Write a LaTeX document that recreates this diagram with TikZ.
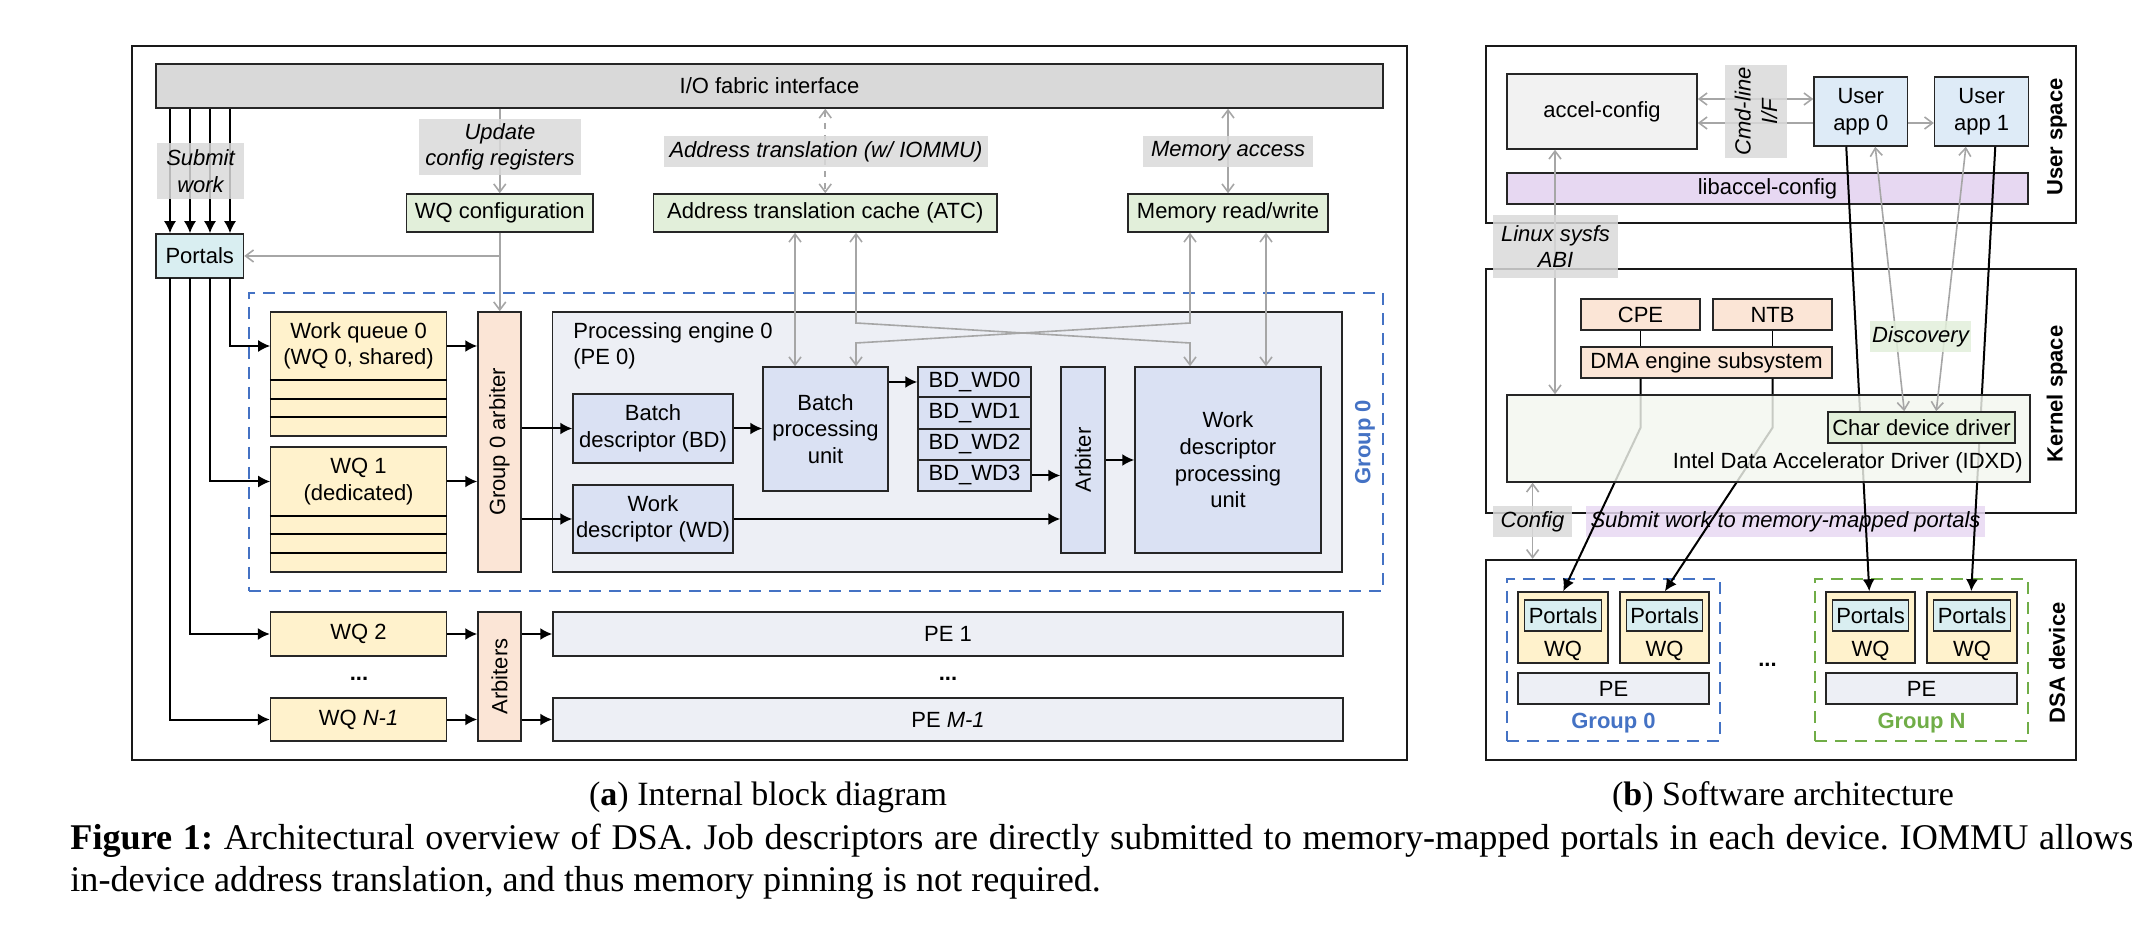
\documentclass[tikz,border=0pt]{standalone}
\usepackage{fontspec}
\setmainfont{Liberation Sans}
\newfontfamily\capfont{Liberation Serif}
\usetikzlibrary{arrows.meta,calc}
\definecolor{cfab}{HTML}{D9D9D9}
\definecolor{cgreen}{HTML}{E2EFDA}
\definecolor{cport}{HTML}{D9EEF1}
\definecolor{cyel}{HTML}{FFF2CC}
\definecolor{cpeach}{HTML}{FBE5D6}
\definecolor{cpe}{HTML}{EDEFF5}
\definecolor{cblu}{HTML}{DAE1F3}
\definecolor{cacc}{HTML}{F2F2F2}
\definecolor{capp}{HTML}{DEEBF7}
\definecolor{clav}{HTML}{E7D8F2}
\definecolor{cidxd}{HTML}{F3F7EF}
\definecolor{cdblue}{HTML}{4472C4}
\definecolor{cdgreen}{HTML}{70AD47}
\definecolor{cgray}{HTML}{A6A6A6}
\newcommand\place[7]{\node[#6,minimum width={(#4-(#2))*0.5pt},minimum height={(#5-(#3))*0.5pt}] (#1) at ({(#2+#4)/2},{(#3+#5)/2}) {#7};}
\newcommand\mkbox[7]{\place{#1}{#2}{#3}{#4}{#5}{bx,#6}{#7}}
\begin{document}
\begin{tikzpicture}[x=0.5pt,y=-0.5pt,
  every node/.style={font=\fontsize{11}{13.3}\selectfont},
  bx/.style={draw=black!85,line width=0.75pt,inner sep=0pt,align=center},
  frame/.style={draw=black!90,line width=1.1pt,inner sep=0pt},
  lbl/.style={fill=cfab,fill opacity=0.85,text opacity=1,inner sep=0pt,align=center,font=\fontsize{11}{13.3}\selectfont\itshape},
  grp/.style={line width=1pt,dash pattern=on 6pt off 4pt,inner sep=0pt},
  blk/.style={line width=1pt,-{Latex[length=6pt,width=6pt]}},
  gry/.style={draw=cgray,line width=0.8pt,-{Straight Barb[length=4pt,width=6pt]}},
  gry2/.style={draw=cgray,line width=0.8pt,{Straight Barb[length=4pt,width=6pt]}-{Straight Barb[length=4pt,width=6pt]}},
  side/.style={rotate=90,font=\fontsize{11}{13.3}\selectfont\bfseries},
  capt/.style={inner sep=0pt,font=\capfont\fontsize{17}{20.5}\selectfont},
]
\useasboundingbox (0,0) rectangle (2156,929);

%%%%%%%%%%%%%%%% (a) internal block diagram
\place{pa}{132}{46}{1407}{760}{frame}{}
\mkbox{fab}{156}{64}{1383}{108}{fill=cfab}{I/O fabric interface}
\place{g0}{249}{293}{1383}{591}{grp,draw=cdblue}{}
\node[rotate=90,text=cdblue,font=\fontsize{11}{13.3}\selectfont\bfseries] (g0t) at (1365,442) {Group 0};

\mkbox{portals}{156}{234}{243.5}{278}{fill=cport}{Portals}
\mkbox{wqconf}{406.5}{194}{593}{232}{fill=cgreen}{WQ configuration}
\mkbox{atc}{653.5}{194}{997}{232}{fill=cgreen}{Address translation cache (ATC)}
\mkbox{mem}{1128}{194}{1328}{232}{fill=cgreen}{Memory read/write}

% work queues
\mkbox{wq0box}{270.6}{312}{446.5}{436}{fill=cyel}{}
\place{wq0}{270.6}{312}{446.5}{380}{inner sep=0pt,align=center}{Work queue 0\\(WQ 0, shared)}
\foreach \yy in {380,399,417} \draw[line width=0.75pt] (wq0box.west |- 0,\yy) -- (wq0box.east |- 0,\yy);
\mkbox{wq1box}{270.6}{447}{446.5}{572}{fill=cyel}{}
\place{wq1}{270.6}{447}{446.5}{516}{inner sep=0pt,align=center}{WQ 1\\(dedicated)}
\foreach \yy in {516,534,553} \draw[line width=0.75pt] (wq1box.west |- 0,\yy) -- (wq1box.east |- 0,\yy);

\mkbox{g0arb}{478}{312}{521}{572}{fill=cpeach}{}
\node[rotate=90] (g0arbt) at (g0arb) {Group 0 arbiter};

\mkbox{pe0}{552.5}{312}{1342}{572}{fill=cpe}{}
\node[anchor=west,align=left,inner sep=0pt] (pe0t) at (573,346) {Processing engine 0\\(PE 0)};
\mkbox{bd}{573}{394}{733}{463}{fill=cblu}{Batch\\descriptor (BD)}
\mkbox{wd}{573}{485}{733}{553}{fill=cblu}{Work\\descriptor (WD)}
\mkbox{bpu}{763}{367}{888}{491}{fill=cblu}{Batch\\processing\\unit}
\mkbox{bdwd0}{918}{367}{1031}{397}{fill=cblu}{BD\_WD0}
\mkbox{bdwd1}{918}{397}{1031}{429}{fill=cblu}{BD\_WD1}
\mkbox{bdwd2}{918}{429}{1031}{460}{fill=cblu}{BD\_WD2}
\mkbox{bdwd3}{918}{460}{1031}{491}{fill=cblu}{BD\_WD3}
\mkbox{iarb}{1061}{367}{1105}{553}{fill=cblu}{}
\node[rotate=90] (iarbt) at (iarb) {Arbiter};
\mkbox{wdpu}{1135}{367}{1321}{553}{fill=cblu}{Work\\descriptor\\processing\\unit}

\mkbox{wq2}{270.6}{612}{446.5}{656}{fill=cyel}{WQ 2}
\mkbox{wqn}{270.6}{698}{446.5}{741}{fill=cyel}{WQ \textit{N-1}}
\node (dotsa) at (359,679) {\bfseries ...};
\mkbox{arbs}{478}{612}{521}{741}{fill=cpeach}{}
\node[rotate=90] (arbst) at (arbs) {Arbiters};
\mkbox{pe1}{553}{612}{1343}{656}{fill=cpe}{PE 1}
\mkbox{pem}{553}{698}{1343}{741}{fill=cpe}{PE \textit{M-1}}
\node (dotsb) at (948,679) {\bfseries ...};

% black connectors
\coordinate (pb1) at (170,278);
\coordinate (pb2) at (190,278);
\coordinate (pb3) at (210,278);
\coordinate (pb4) at (230,278);
\foreach \p in {pb1,pb2,pb3,pb4} \draw[blk] (fab.south -| \p) -- (portals.north -| \p);
\draw[blk] (pb4) |- (wq0.west);
\draw[blk] (pb3) |- (wq1.west);
\draw[blk] (pb2) |- (wq2.west);
\draw[blk] (pb1) |- (wqn.west);
\draw[blk] (wq0.east) -- (wq0.east -| g0arb.west);
\draw[blk] (wq1.east) -- (wq1.east -| g0arb.west);
\draw[blk] (bd.west -| g0arb.east) -- (bd.west);
\draw[blk] (wd.west -| g0arb.east) -- (wd.west);
\draw[blk] (bd.east) -- (bd.east -| bpu.west);
\draw[blk] (bdwd0.west -| bpu.east) -- (bdwd0.west);
\draw[blk] (bdwd3.east) -- (bdwd3.east -| iarb.west);
\draw[blk] (wd.east) -- (wd.east -| iarb.west);
\draw[blk] (iarb.east) -- (iarb.east -| wdpu.west);
\draw[blk] (wq2.east) -- (wq2.east -| arbs.west);
\draw[blk] (pe1.west -| arbs.east) -- (pe1.west);
\draw[blk] (wqn.east) -- (wqn.east -| arbs.west);
\draw[blk] (pem.west -| arbs.east) -- (pem.west);

% gray connectors
\draw[gry] (wqconf.north |- fab.south) -- (wqconf.north);
\draw[gry] (wqconf.south) -- (wqconf.south |- g0arb.north);
\draw[gry] (wqconf.south |- portals.east) -- (portals.east);
\draw[gry2,dashed] (atc.north |- fab.south) -- (atc.north);
\draw[gry2] (mem.north |- fab.south) -- (mem.north);
\coordinate (xa1) at (795,0);
\coordinate (xa2) at (856,0);
\coordinate (xm1) at (1190,0);
\coordinate (xm2) at (1266,0);
\draw[gry2] (atc.south -| xa1) -- (bpu.north -| xa1);
\draw[gry2] (atc.south -| xa2) -- (856,323) -- (1190,343) -- (wdpu.north -| xm1);
\draw[gry2] (mem.south -| xm1) -- (1190,323) -- (856,343) -- (bpu.north -| xa2);
\draw[gry2] (mem.south -| xm2) -- (wdpu.north -| xm2);

% labels
\place{sublbl}{157}{143}{244}{199}{lbl}{Submit\\work}
\place{updlbl}{419}{119}{581}{175}{lbl}{Update\\config registers}
\place{atlbl}{664}{136}{988}{167}{lbl}{Address translation (w/ IOMMU)}
\place{malbl}{1143}{136}{1313}{167}{lbl}{Memory access}

%%%%%%%%%%%%%%%% (b) software architecture
\place{us}{1486}{46}{2076}{223}{frame}{}
\place{ks}{1486}{269}{2076}{513}{frame}{}
\place{dsa}{1486}{560}{2076}{760}{frame}{}
\node[side] (ust) at (2057,137) {User space};
\node[side] (kst) at (2057,394) {Kernel space};
\node[side] (dst) at (2057,663) {DSA device};

\mkbox{lib}{1507}{173}{2028}{204}{fill=clav}{libaccel-config}
\mkbox{accel}{1507}{74}{1697}{149}{fill=cacc}{accel-config}
\mkbox{app1}{1934.6}{77}{2028.7}{146}{fill=capp}{User\\app 1}
\coordinate (yb) at (0,123);
\coordinate (ya) at (0,99);
\draw[gry2] (accel.east |- yb) -- (app1.west |- yb);
\mkbox{app0}{1814}{77}{1907.5}{146}{fill=capp}{User\\app 0}
\draw[gry2] (accel.east |- ya) -- (app0.west |- ya);

\mkbox{cpe}{1581}{299}{1700}{330}{fill=cpeach}{CPE}
\mkbox{ntb}{1713}{299}{1832}{330}{fill=cpeach}{NTB}
\mkbox{dma}{1581}{347}{1832}{378}{fill=cpeach}{DMA engine subsystem}
\draw[line width=0.75pt] (cpe.south) -- (cpe.south |- dma.north);
\draw[line width=0.75pt] (ntb.south) -- (ntb.south |- dma.north);

\place{g0b}{1507}{579}{1720}{741}{grp,draw=cdblue}{}
\place{gnb}{1815}{579}{2028}{741}{grp,draw=cdgreen}{}
\foreach \nm/\xa/\xb in {wqa/1518/1608,wqb/1620/1709,wqc/1826/1915,wqd/1927/2017}{
  \mkbox{\nm}{\xa}{592}{\xb}{663}{fill=cyel}{}
  \mkbox{\nm p}{\xa+6.5}{600}{\xb-6.5}{631}{fill=cport}{Portals}
  \node (\nm t) at ($(\nm.south)+(0,-13)$) {WQ};
}
\mkbox{peb0}{1518}{673}{1709}{704}{fill=cpe}{PE}
\mkbox{pebn}{1826}{673}{2017}{704}{fill=cpe}{PE}
\node[text=cdblue,font=\fontsize{11}{13.3}\selectfont\bfseries] (g0bt) at (1613.5,723) {Group 0};
\node[text=cdgreen,font=\fontsize{11}{13.3}\selectfont\bfseries] (gnbt) at (1921.5,723) {Group N};
\node (dotsc) at (1767.5,665) {\bfseries ...};

\place{swlbl}{1586}{506}{1985}{537}{lbl,fill=clav}{Submit work to memory-mapped portals}

% lines through kernel
\draw[blk] ($(app0.south west)+(33,0)$) -- ($(wqc.north west)+(44,0)$);
\draw[blk] ($(app1.south west)+(61.4,0)$) -- ($(wqd.north west)+(45,0)$);
\draw[blk] (dma.south -| cpe.south) -- ++(0,49) -- ($(wqa.north west)+(46,0)$);
\draw[blk] (dma.south -| ntb.south) -- ++(0,49) -- ($(wqb.north west)+(45.6,0)$);
\coordinate (xs) at (1555,0);
\coordinate (xc) at (1532.6,0);
\mkbox{idxd}{1507}{395}{2030}{482}{fill=cidxd,fill opacity=0.82,text opacity=1}{}
\node[anchor=east,inner sep=0pt] (idxdt) at (2023,463) {Intel Data Accelerator Driver (IDXD)};
\mkbox{chard}{1828}{412}{2015}{443}{fill=cgreen}{Char device driver}
\draw[gry2] (accel.south -| xs) -- (idxd.north -| xs);
\draw[gry2] ($(app0.south west)+(62,0)$) -- ($(chard.north west)+(77,0)$);
\draw[gry2] ($(app1.south west)+(32,0)$) -- ($(chard.north west)+(109,0)$);
\draw[gry2] (idxd.south -| xc) -- (dsa.north -| xc);

\place{cmdbox}{1725}{65}{1787}{158}{lbl}{}
\node[rotate=90,align=center,font=\fontsize{11}{13.3}\selectfont\itshape] (cmdt) at (cmdbox) {Cmd-line\\I/F};
\place{sysfs}{1493}{215}{1618}{278}{lbl}{Linux sysfs\\ABI}
\place{disc}{1870}{321}{1971}{352}{lbl,fill=cgreen}{Discovery}
\place{cfg}{1493}{506}{1572}{537}{lbl}{Config}

%%%%%%%%%%%%%%%% captions
\node[capt,anchor=base] (capa) at (768,805) {(\textbf{a}) Internal block diagram};
\node[capt,anchor=base] (capb) at (1783,805) {(\textbf{b}) Software architecture};
\node[capt,font=\capfont\fontsize{18.1}{20.5}\selectfont,anchor=base west] (cap1) at (70,849) {\frenchspacing\makebox[1031.5pt][s]{\textbf{Figure 1:} Architectural overview of DSA. Job descriptors are directly submitted to memory-mapped portals in each device. IOMMU allows}};
\node[capt,font=\capfont\fontsize{18.1}{20.5}\selectfont,anchor=base west] (cap2) at (70,891) {in-device address translation, and thus memory pinning is not required.};
\end{tikzpicture}
\end{document}
